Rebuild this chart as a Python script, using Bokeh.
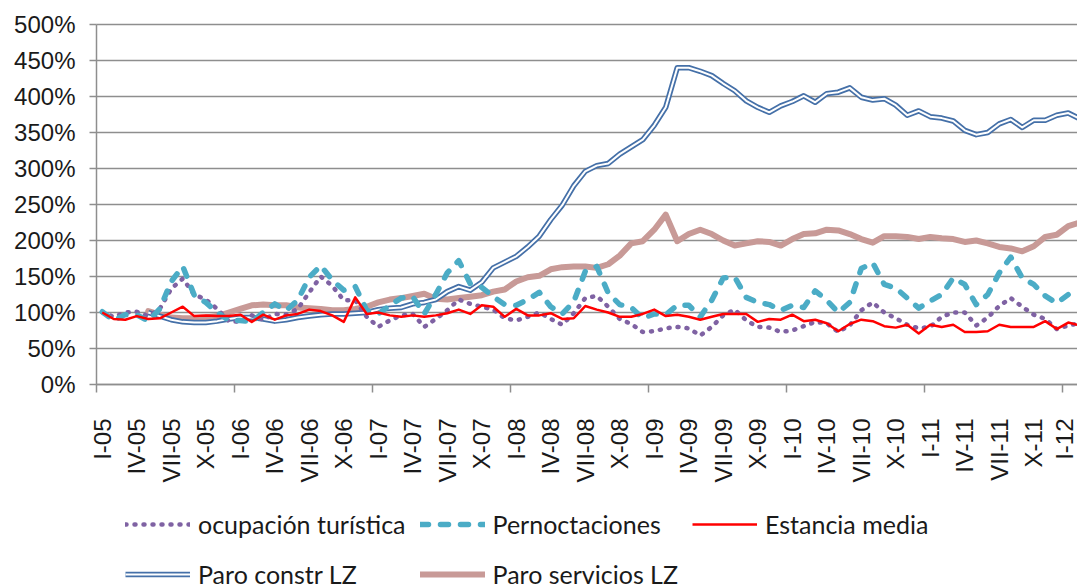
import math
import numpy as np
from bokeh.plotting import figure
from bokeh.models import Range1d, FixedTicker, PrintfTickFormatter, Legend, LegendItem
from bokeh.embed import file_html
from bokeh.resources import INLINE

# ---------------- data (monthly, I-05 .. II-12) ----------------
months = list(range(86))

tick_positions = list(range(0, 85, 3))
tick_labels = ["I-05", "IV-05", "VII-05", "X-05",
               "I-06", "IV-06", "VII-06", "X-06",
               "I-07", "IV-07", "VII-07", "X-07",
               "I-08", "IV-08", "VII-08", "X-08",
               "I-09", "IV-09", "VII-09", "X-09",
               "I-10", "IV-10", "VII-10", "X-10",
               "I-11", "IV-11", "VII-11", "X-11",
               "I-12"]
year_starts = list(range(0, 85, 12))
pct_ticks = list(range(0, 501, 50))

ocupacion = [100, 94, 100, 101, 95, 105, 133, 147, 125, 118, 105, 88, 87, 96, 90, 98,
             97, 105, 128, 150, 137, 117, 117, 94, 80, 89, 96, 98, 80, 91, 103, 118,
             112, 108, 104, 92, 89, 94, 100, 91, 83, 99, 120, 123, 108, 91, 84, 73,
             74, 78, 80, 78, 68, 80, 96, 104, 89, 80, 79, 73, 75, 81, 87, 85,
             73, 82, 103, 114, 100, 92, 83, 78, 80, 94, 100, 100, 82, 93, 109, 120,
             108, 97, 91, 77, 82, 85]

pernoctaciones = [101, 89, 97, 97, 88, 105, 143, 164, 124, 114, 100, 89, 89, 87, 100, 112,
                  103, 117, 149, 165, 145, 131, 136, 103, 98, 110, 120, 122, 98, 125, 155, 172,
                  140, 135, 122, 111, 110, 118, 128, 108, 98, 115, 157, 164, 127, 111, 107, 92,
                  98, 97, 110, 110, 94, 117, 148, 149, 121, 114, 111, 103, 110, 107, 130, 117,
                  100, 114, 161, 169, 139, 134, 120, 106, 116, 125, 148, 139, 111, 125, 155, 177,
                  148, 139, 123, 113, 125, 128]

estancia = [100, 91, 90, 95, 91, 92, 100, 108, 95, 96, 95, 95, 97, 87, 97, 90,
            96, 98, 104, 102, 96, 87, 121, 98, 100, 96, 94, 96, 94, 96, 99, 104,
            98, 110, 108, 94, 105, 96, 96, 99, 91, 92, 109, 104, 100, 94, 94, 98,
            104, 95, 97, 94, 90, 94, 98, 98, 98, 87, 91, 90, 97, 88, 90, 85,
            74, 84, 90, 88, 81, 79, 83, 71, 83, 80, 83, 73, 73, 74, 83, 80,
            80, 80, 88, 77, 86, 82]

paro_constr = [None, None, None, None, 100, 95, 90, 87, 86, 86, 88, 91, 93, 93, 91, 88,
               90, 93, 95, 97, 98, 98, 99, 100, 104, 106, 107, 112, 114, 118, 129, 136,
               131, 142, 162, 170, 178, 191, 206, 229, 249, 276, 296, 304, 307, 320, 330, 340,
               360, 385, 440, 440, 435, 429, 418, 408, 394, 385, 378, 387, 393, 401, 392, 404,
               406, 412, 399, 395, 397, 388, 374, 380, 372, 370, 366, 353, 347, 350, 362, 368,
               357, 367, 367, 374, 377, 369]

paro_servicios = [None, None, None, None, 102, 97, 93, 92, 92, 93, 95, 100, 105, 110, 111, 110,
                  110, 107, 106, 105, 103, 103, 105, 108, 114, 118, 120, 123, 126, 119, 118, 120,
                  122, 124, 129, 132, 143, 149, 151, 160, 163, 164, 164, 162, 167, 179, 196, 199,
                  215, 236, 199, 209, 215, 209, 200, 193, 196, 199, 198, 193, 202, 209, 210, 215,
                  214, 209, 202, 197, 206, 206, 205, 202, 205, 203, 202, 198, 200, 196, 191, 189,
                  185, 192, 205, 208, 220, 225]

series_names = ["ocupación turística", "Pernoctaciones", "Estancia media",
                "Paro constr LZ", "Paro servicios LZ"]

# ---------------- figure ----------------
AXIS_FONT = "Liberation Sans"
LEGEND_FONT = "Lato"
GRID = "#8e8e8e"
TEXT = "#1a1a1a"

W, H = 1077, 584
AX_LEFT, AX_TOP = 96, 24      # pixel position of the plotting area's top-left corner
PX_PER_PCT = 0.72             # 360 px for 0..500 %
PX_PER_MONTH = 11.5
x_first = -0.5
x_last = x_first + (W - AX_LEFT) / PX_PER_MONTH
x_start = x_first - AX_LEFT / PX_PER_MONTH
y_end = 500 + AX_TOP / PX_PER_PCT
y_start = y_end - H / PX_PER_PCT

p = figure(width=W, height=H, output_backend="svg", toolbar_location=None,
           x_range=Range1d(x_start, x_last), y_range=Range1d(y_start, y_end),
           min_border_left=0, min_border_right=0, min_border_top=0,
           min_border_bottom=0)
p.outline_line_color = None
p.background_fill_color = "white"
p.border_fill_color = "white"
p.xgrid.visible = False
p.ygrid.visible = False

# horizontal gridlines, limited to the plotting area
p.segment(x0=[x_first] * len(pct_ticks), x1=[x_last] * len(pct_ticks),
          y0=pct_ticks, y1=pct_ticks, line_color=GRID, line_width=1.5,
          level="underlay")

# y axis
ya = p.yaxis[0]
ya.fixed_location = x_first
ya.bounds = (0, 500)
ya.ticker = FixedTicker(ticks=pct_ticks)
ya.formatter = PrintfTickFormatter(format="%d%%")
ya.axis_line_color = GRID
ya.axis_line_width = 1.5
ya.major_tick_line_color = GRID
ya.major_tick_line_width = 1.5
ya.major_tick_out = 7
ya.major_tick_in = 0
ya.minor_tick_line_color = None
ya.major_label_standoff = 14
ya.major_label_text_font = AXIS_FONT
ya.major_label_text_font_size = "24px"
ya.major_label_text_color = TEXT

# x axis: sits at 0 %, labels every quarter, tick marks at year boundaries
xa = p.xaxis[0]
xa.fixed_location = 0
xa.bounds = (x_first, x_last)
xa.ticker = FixedTicker(ticks=tick_positions, minor_ticks=[m - 0.5 for m in year_starts])
xa.major_label_overrides = {pos: lab for pos, lab in zip(tick_positions, tick_labels)}
xa.major_label_orientation = math.pi / 2
xa.axis_line_color = GRID
xa.axis_line_width = 1.5
xa.major_tick_line_color = None
xa.major_tick_out = 0
xa.major_tick_in = 0
xa.minor_tick_line_color = GRID
xa.minor_tick_line_width = 1.5
xa.minor_tick_out = 8
xa.minor_tick_in = 0
xa.major_label_standoff = 26
xa.major_label_text_font = AXIS_FONT
xa.major_label_text_font_size = "24px"
xa.major_label_text_color = TEXT

def arr(v):
    return np.array(v, dtype=float)

x = np.array(months, dtype=float)

r_serv = p.line(x, arr(paro_servicios), line_color="#c89a97", line_width=6,
                line_join="round", line_cap="round")
r_con_o = p.line(x, arr(paro_constr), line_color="#4570a8", line_width=5.5,
                 line_join="round")
r_con_i = p.line(x, arr(paro_constr), line_color="white", line_width=2,
                 line_join="round")
r_ocu = p.line(x, arr(ocupacion), line_color="#7f62a3", line_width=4.5,
               line_dash="1 8", line_cap="round", line_join="round")
r_per = p.line(x, arr(pernoctaciones), line_color="#4bacc6", line_width=5.5,
               line_dash="8 12", line_cap="round", line_join="round")
r_est = p.line(x, arr(estancia), line_color="#ff0000", line_width=2.5,
               line_join="round")

legend = Legend(
    items=[LegendItem(label=series_names[0], renderers=[r_ocu]),
           LegendItem(label=series_names[1], renderers=[r_per]),
           LegendItem(label=series_names[2], renderers=[r_est]),
           LegendItem(label=series_names[3], renderers=[r_con_o, r_con_i]),
           LegendItem(label=series_names[4], renderers=[r_serv])],
    location=(125, -8), orientation="horizontal", ncols=3,
    glyph_width=65, glyph_height=36, label_height=36, label_standoff=8,
    spacing=14, padding=0, margin=0,
    border_line_color=None, background_fill_alpha=0,
    label_text_font=LEGEND_FONT, label_text_font_size="25px",
    label_text_color=TEXT)
p.add_layout(legend)

open("out.html", "w").write(file_html(p, INLINE))
